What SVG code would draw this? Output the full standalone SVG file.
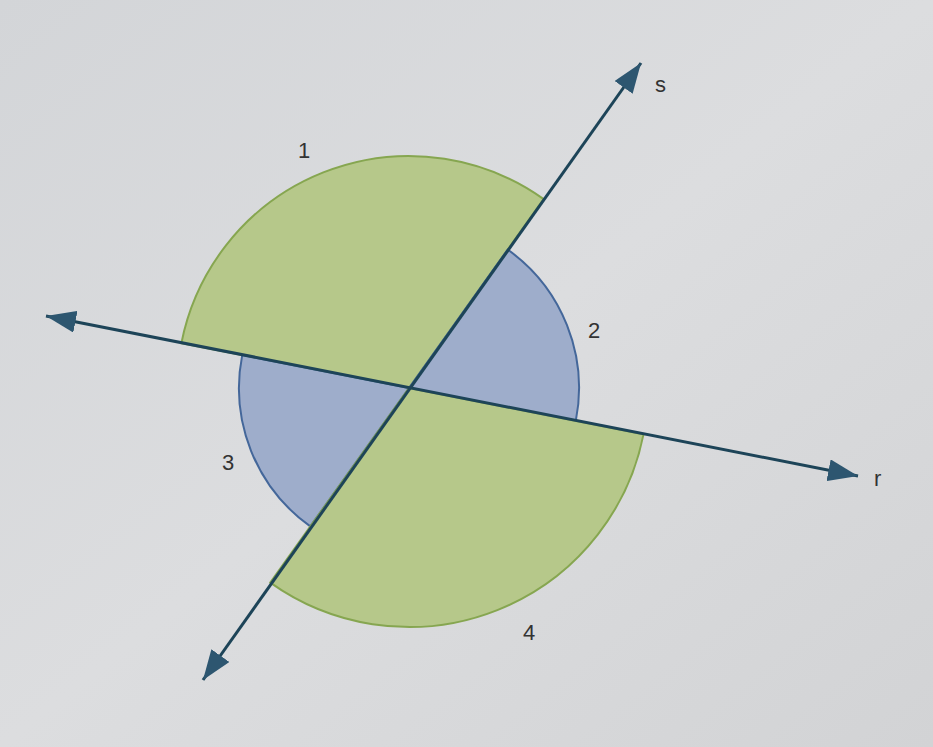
<svg xmlns="http://www.w3.org/2000/svg" width="933" height="747" viewBox="0 0 933 747">
<defs>
<style>
.green{fill:#b6c88a;stroke:#86a650;stroke-width:2}
.blue{fill:#9eadcb;stroke:#44679a;stroke-width:2}
.axis{stroke:#1d4458;stroke-width:3;fill:none}
.lbl{font-family:"Liberation Sans",Arial,sans-serif;font-size:22px;fill:#333}
</style>
<marker id="ah" viewBox="0 0 30 22" refX="30" refY="11" markerWidth="30" markerHeight="22" markerUnits="userSpaceOnUse" orient="auto-start-reverse">
<path d="M0,0 L30,11 L0,22 z" fill="#2d5670"/>
</marker>
<linearGradient id="bg" x1="0" y1="0" x2="1" y2="1">
<stop offset="0" stop-color="#d3d5d8"/>
<stop offset="0.5" stop-color="#dcdddf"/>
<stop offset="1" stop-color="#d2d3d5"/>
</linearGradient>
</defs>
<rect width="933" height="747" fill="url(#bg)"/>
<g id="sector1">
<path class="green" d="M409,388 L181.4,343.1 A232,232 0 0 1 543.7,199.1 Z"/>
</g>
<g id="sector2">
<path class="blue" d="M409,388 L507.7,249.6 A170,170 0 0 1 575.8,420.9 Z"/>
</g>
<g id="sector3">
<path class="blue" d="M409,388 L310.3,526.4 A170,170 0 0 1 242.2,355.1 Z"/>
</g>
<g id="sector4">
<path class="green" d="M409,388 L643.5,434.2 A239,239 0 0 1 270.3,582.6 Z"/>
</g>
<g id="connectors">
<path class="axis" d="M46,316 L858,476" marker-start="url(#ah)" marker-end="url(#ah)"/>
<path class="axis" d="M203,680 L641,63" marker-start="url(#ah)" marker-end="url(#ah)"/>
</g>
<g id="labels">
<text class="lbl" x="298" y="158">1</text>
<text class="lbl" x="588" y="338">2</text>
<text class="lbl" x="222" y="470">3</text>
<text class="lbl" x="523" y="640">4</text>
<text class="lbl" x="655" y="92">s</text>
<text class="lbl" x="874" y="486">r</text>
</g>
</svg>
